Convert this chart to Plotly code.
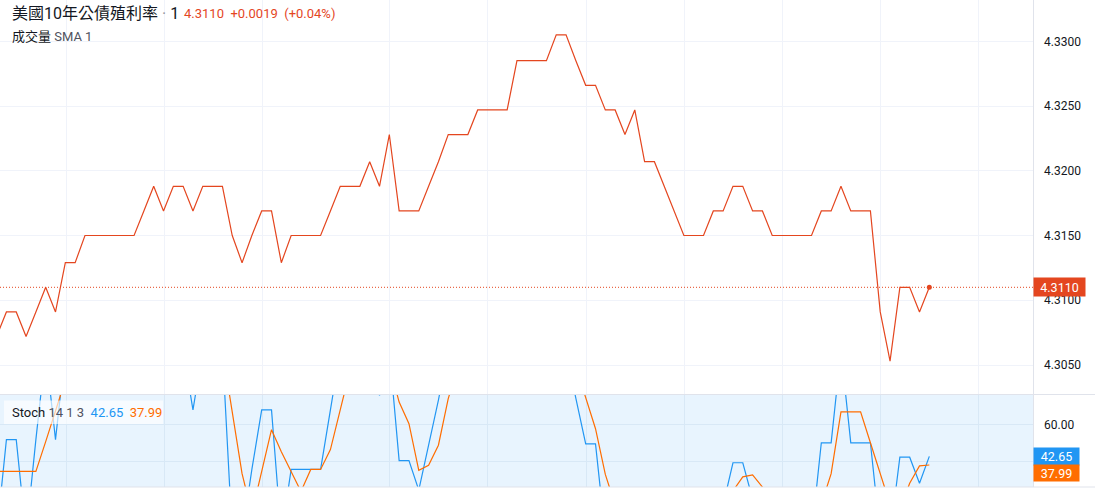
import plotly.graph_objects as go

# ---------------- data ----------------
bar_index = list(range(96))

yield_values = [
    4.3072, 4.3091, 4.3091, 4.3072, 4.3091, 4.3110, 4.3091, 4.3129, 4.3129, 4.3150,
    4.3150, 4.3150, 4.3150, 4.3150, 4.3150, 4.3169, 4.3188, 4.3169, 4.3188, 4.3188,
    4.3169, 4.3188, 4.3188, 4.3188, 4.3150, 4.3129, 4.3150, 4.3169, 4.3169, 4.3129,
    4.3150, 4.3150, 4.3150, 4.3150, 4.3169, 4.3188, 4.3188, 4.3188, 4.3207, 4.3188,
    4.3228, 4.3169, 4.3169, 4.3169, 4.3188, 4.3207, 4.3228, 4.3228, 4.3228, 4.3247,
    4.3247, 4.3247, 4.3247, 4.3285, 4.3285, 4.3285, 4.3285, 4.3305, 4.3305, 4.3285,
    4.3266, 4.3266, 4.3247, 4.3247, 4.3228, 4.3247, 4.3207, 4.3207, 4.3188, 4.3169,
    4.3150, 4.3150, 4.3150, 4.3169, 4.3169, 4.3188, 4.3188, 4.3169, 4.3169, 4.3150,
    4.3150, 4.3150, 4.3150, 4.3150, 4.3169, 4.3169, 4.3188, 4.3169, 4.3169, 4.3169,
    4.3091, 4.3053, 4.3110, 4.3110, 4.3091, 4.3110,
]

stoch_k = [
    0, 51.7, 51.7, 0, 51.7, 100, 51.7, 100, 100, 100,
    100, 100, 100, 100, 100, 100, 100, 80.4, 100, 100,
    67.8, 100, 100, 100, 0, 0, 35.6, 67.8, 67.8, 0,
    35.6, 35.6, 35.6, 35.6, 67.8, 100, 100, 100, 100, 75.6,
    100, 40.4, 40.4, 24.4, 48.7, 73.1, 100, 100, 100, 100,
    100, 100, 100, 100, 100, 100, 100, 100, 100, 74.0,
    49.4, 49.4, 0, 0, 0, 24.7, 0, 0, 0, 0,
    0, 0, 0, 16.4, 16.4, 39.2, 39.2, 19.6, 19.6, 0,
    0, 0, 0, 0, 50, 50, 100, 50, 50, 50,
    0, 0, 42.2, 42.2, 28.1, 42.65,
]

stoch_d = [
    34.5, 34.5, 34.5, 34.5, 34.5, 50.6, 67.8, 83.9, 83.9, 100,
    100, 100, 100, 100, 100, 100, 100, 93.5, 93.5, 93.5,
    89.3, 89.3, 89.3, 100, 66.7, 33.3, 11.9, 34.5, 57.1, 45.2,
    34.5, 23.7, 35.6, 35.6, 46.3, 67.8, 89.3, 100, 100, 91.9,
    91.9, 72.0, 60.3, 35.1, 37.8, 48.7, 73.9, 91.0, 100, 100,
    100, 100, 100, 100, 100, 100, 100, 100, 100, 91.3,
    74.5, 57.6, 32.9, 16.5, 0, 8.2, 8.2, 8.2, 0, 0,
    0, 0, 0, 5.5, 10.9, 24.0, 31.6, 32.7, 26.1, 13.1,
    6.5, 0, 0, 0, 16.7, 33.3, 66.7, 66.7, 66.7, 50,
    33.3, 16.7, 14.1, 28.1, 37.5, 37.99,
]

price_ticks = [4.3050, 4.3100, 4.3150, 4.3200, 4.3250, 4.3300]
price_tick_labels = ["4.3050", "4.3100", "4.3150", "4.3200", "4.3250", "4.3300"]
stoch_ticks = [40, 60]
stoch_tick_labels = ["", "60.00"]
time_grid = [7.14, 17.12, 27.1, 40.04, 50.02, 60.1, 70.1, 80.07, 90.04, 100.0]

title_text = "美國10年公債殖利率"
last_text = "4.3110"
change_text = "+0.0019"
pct_text = "(+0.04%)"

# ---------------- style ----------------
W, H = 1095, 492
PW, PH = 1033, 487  # plot area in px
RED = "#e4461f"
BLUE = "#2196f3"
ORANGE = "#ff6d00"
TXT = "#131722"
GRID = "#f0f3fa"
GRID2 = "#d8e8f6"
BORDER = "#e0e3eb"
FONT = "Roboto, 'Noto Sans CJK TC', sans-serif"

def px_x(px):
    return px / PW

def px_y(py):
    return (PH - py) / PH

main_bottom = 394
stoch_top = 395

fig = go.Figure()

fig.add_trace(go.Scatter(
    x=bar_index, y=yield_values, mode="lines",
    line=dict(color=RED, width=1.2), xaxis="x", yaxis="y", hoverinfo="skip"))
fig.add_trace(go.Scatter(
    x=[bar_index[-1]], y=[yield_values[-1]], mode="markers",
    marker=dict(color=RED, size=5), xaxis="x", yaxis="y", hoverinfo="skip"))
fig.add_trace(go.Scatter(
    x=bar_index, y=stoch_k, mode="lines",
    line=dict(color=BLUE, width=1.2), xaxis="x2", yaxis="y2", hoverinfo="skip"))
fig.add_trace(go.Scatter(
    x=bar_index, y=stoch_d, mode="lines",
    line=dict(color=ORANGE, width=1.2), xaxis="x2", yaxis="y2", hoverinfo="skip"))

xr = [0.346, 105.56]
common_x = dict(range=xr, tickvals=time_grid, showticklabels=False, ticks="",
                showgrid=True, gridwidth=1, zeroline=False,
                showline=False, fixedrange=True)

fig.update_layout(
    width=W, height=H,
    margin=dict(l=0, r=W - PW, t=0, b=H - PH),
    paper_bgcolor="white", plot_bgcolor="white",
    showlegend=False,
    font=dict(family=FONT, size=12, color=TXT),
    xaxis=dict(domain=[0, 1], anchor="y", gridcolor=GRID, **common_x),
    xaxis2=dict(domain=[0, 1], anchor="y2", matches="x", gridcolor=GRID2, **common_x),
    yaxis=dict(domain=[(PH - main_bottom) / PH, 1], anchor="x", side="right",
               range=[4.30276, 4.33319], tickvals=price_ticks, ticktext=price_tick_labels,
               showgrid=True, gridcolor=GRID, zeroline=False, ticks="", fixedrange=True,
               ticklabelstandoff=10, tickfont=dict(size=12, color=TXT, family=FONT)),
    yaxis2=dict(domain=[0, (PH - stoch_top) / PH], anchor="x2", side="right",
                range=[26.1, 75.84], tickvals=stoch_ticks, ticktext=stoch_tick_labels,
                showgrid=True, gridcolor=GRID2, zeroline=False, ticks="", fixedrange=True,
                ticklabelstandoff=10, tickfont=dict(size=12, color=TXT, family=FONT)),
)

shapes = []
# stoch band fill (20-80)
shapes.append(dict(type="rect", xref="x2", yref="y2", x0=xr[0], x1=xr[1], y0=20, y1=80,
                   fillcolor="rgba(33,150,243,0.1)", line=dict(width=0), layer="below"))
# price line (dotted)
shapes.append(dict(type="line", xref="paper", yref="y", x0=0, x1=1,
                   y0=yield_values[-1], y1=yield_values[-1],
                   line=dict(color=RED, width=1, dash="1px,2px")))
# pane separator, bottom border, price-axis border
shapes.append(dict(type="line", xref="paper", yref="paper", x0=0, x1=W / PW,
                   y0=px_y(394.5), y1=px_y(394.5), line=dict(color=BORDER, width=1)))
shapes.append(dict(type="line", xref="paper", yref="paper", x0=0, x1=W / PW,
                   y0=px_y(487), y1=px_y(487), line=dict(color=BORDER, width=1)))
shapes.append(dict(type="line", xref="paper", yref="paper", x0=px_x(1033.5), x1=px_x(1033.5),
                   y0=0, y1=1, line=dict(color=BORDER, width=1)))
# stoch legend background
shapes.append(dict(type="rect", xref="paper", yref="paper", x0=px_x(4), x1=px_x(163),
                   y0=px_y(424), y1=px_y(400.5), fillcolor="rgba(255,255,255,0.65)",
                   line=dict(width=0), layer="above"))
fig.update_layout(shapes=shapes)

ann = []
ann.append(dict(xref="paper", yref="paper", x=px_x(10), y=px_y(14), xanchor="left", yanchor="middle",
                text=title_text + " <span style='color:#9598a1'>·</span> 1", showarrow=False,
                font=dict(size=16, color=TXT, family=FONT)))
ann.append(dict(xref="paper", yref="paper", x=px_x(182), y=px_y(14), xanchor="left", yanchor="middle",
                text=last_text + "  " + change_text + "  " + pct_text, showarrow=False,
                font=dict(size=13, color=RED, family=FONT)))
ann.append(dict(xref="paper", yref="paper", x=px_x(10), y=px_y(37), xanchor="left", yanchor="middle",
                text="成交量 <span style='color:#50535e'>SMA 1</span>", showarrow=False,
                font=dict(size=13, color=TXT, family=FONT)))
ann.append(dict(xref="paper", yref="paper", x=px_x(10), y=px_y(412.7), xanchor="left", yanchor="middle",
                text="Stoch <span style='color:#50535e'>14 1 3</span>  "
                     "<span style='color:%s'>%s</span>  <span style='color:%s'>%s</span>"
                     % (BLUE, "{:.2f}".format(stoch_k[-1]), ORANGE, "{:.2f}".format(stoch_d[-1])),
                showarrow=False, font=dict(size=13, color=TXT, family=FONT)))
# axis value labels
ann.append(dict(xref="paper", yref="y", x=1.0, y=yield_values[-1], xanchor="left", yanchor="middle",
                text=last_text, showarrow=False, bgcolor=RED, width=51, height=18, borderpad=0,
                align="center", font=dict(size=12.5, color="white", family=FONT)))
ann.append(dict(xref="paper", yref="y2", x=1.0, y=stoch_k[-1], xanchor="left", yanchor="middle",
                text="{:.2f}".format(stoch_k[-1]), showarrow=False, bgcolor=BLUE, width=45, height=16.5,
                borderpad=0, align="center", font=dict(size=12.5, color="white", family=FONT)))
ann.append(dict(xref="paper", yref="y2", x=1.0, y=stoch_d[-1], xanchor="left", yanchor="middle",
                yshift=-8.3,
                text="{:.2f}".format(stoch_d[-1]), showarrow=False, bgcolor=ORANGE, width=45, height=16,
                borderpad=0, align="center", font=dict(size=12.5, color="white", family=FONT)))
fig.update_layout(annotations=ann)

fig.write_html("out.html", config={"displayModeBar": False},
               post_script="document.body.style.margin='0';")
